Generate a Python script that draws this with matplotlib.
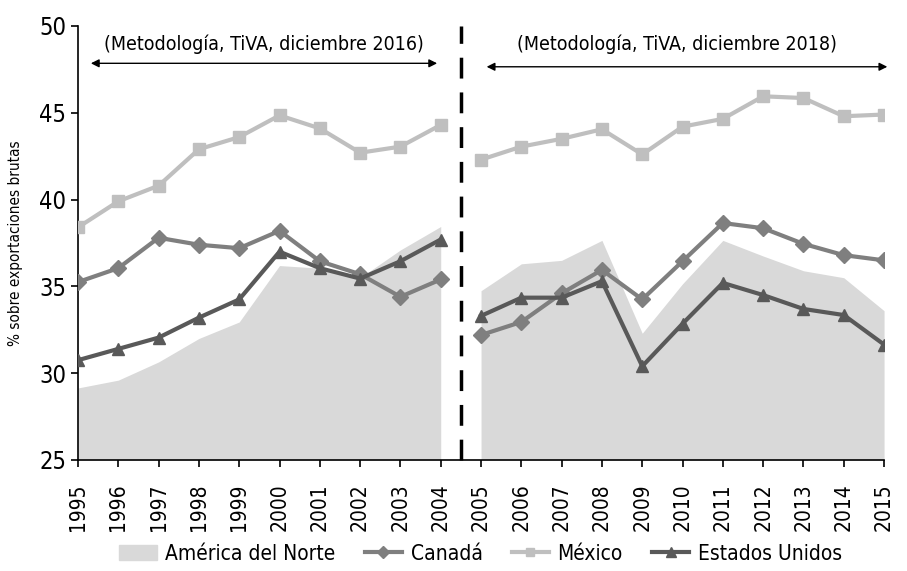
import matplotlib
matplotlib.use("Agg")
import matplotlib.pyplot as plt
import numpy as np

plt.rcParams['font.family'] = ['DejaVu Sans']
plt.rcParams['font.stretch'] = 'condensed'

years = list(range(1995, 2016))
america_norte = [29.15, 29.6, 30.65, 32.0, 32.95, 36.2, 36.05, 35.5, 37.1, 38.45,
                 34.75, 36.3, 36.5, 37.65, 32.3, 35.15, 37.65, 36.75, 35.9, 35.5, 33.6]
canada = [35.25, 36.05, 37.8, 37.4, 37.2, 38.2, 36.45, 35.7, 34.4, 35.4,
          32.2, 32.95, 34.6, 35.95, 34.25, 36.45, 38.65, 38.35, 37.45, 36.8, 36.5]
mexico = [38.4, 39.9, 40.8, 42.9, 43.6, 44.85, 44.1, 42.7, 43.05, 44.3,
          42.3, 43.05, 43.5, 44.05, 42.6, 44.2, 44.65, 45.95, 45.85, 44.8, 44.9]
estados_unidos = [30.75, 31.4, 32.05, 33.2, 34.25, 37.0, 36.05, 35.45, 36.45, 37.7,
                  33.3, 34.35, 34.35, 35.3, 30.4, 32.85, 35.2, 34.5, 33.7, 33.35, 31.65]

x = np.arange(len(years))
segs = [slice(0, 10), slice(10, 21)]

fig = plt.figure(figsize=(9.07, 5.71), dpi=100)
ax = fig.add_axes([0.086, 0.1944, 0.8887, 0.7601])

c_area = '#d9d9d9'
c_can = '#7f7f7f'
c_mex = '#bfbfbf'
c_eu = '#595959'

for s in segs:
    ax.fill_between(x[s], 25, np.array(america_norte)[s], color=c_area, lw=0, zorder=1)
    ax.plot(x[s], np.array(mexico)[s], color=c_mex, lw=3, marker='s', ms=9, zorder=3)
    ax.plot(x[s], np.array(canada)[s], color=c_can, lw=3, marker='D', ms=8, zorder=4)
    ax.plot(x[s], np.array(estados_unidos)[s], color=c_eu, lw=3, marker='^', ms=9, zorder=5)

# methodology break
ax.plot([9.5, 9.5], [25, 50], color='black', lw=2.5, dashes=(6, 4), zorder=6, clip_on=False)

ax.set_xlim(0, 20)
ax.set_ylim(25, 50)
ax.set_yticks([25, 30, 35, 40, 45, 50])
ax.set_xticks(x)
ax.set_xticklabels(years, rotation=90, fontsize=15)
ax.tick_params(axis='y', labelsize=17, length=5, width=1.2)
ax.tick_params(axis='x', length=5, width=1.2, pad=12)
for side in ['top', 'right']:
    ax.spines[side].set_visible(False)
ax.spines['left'].set_linewidth(1.2)
ax.spines['bottom'].set_linewidth(1.2)
ax.set_ylabel('% sobre exportaciones brutas', fontsize=11, labelpad=12)

ax.annotate('', xy=(0.25, 47.85), xytext=(8.98, 47.85),
            arrowprops=dict(arrowstyle='<|-|>', color='black', lw=1, mutation_scale=12),
            annotation_clip=False)
ax.text(4.6, 48.95, '(Metodología, TiVA, diciembre 2016)', ha='center', va='center', fontsize=14)
ax.annotate('', xy=(10.07, 47.65), xytext=(20.15, 47.65),
            arrowprops=dict(arrowstyle='<|-|>', color='black', lw=1, mutation_scale=12),
            annotation_clip=False)
ax.text(14.85, 48.95, '(Metodología, TiVA, diciembre 2018)', ha='center', va='center', fontsize=14)

handles = [
    plt.Rectangle((0, 0), 1, 1, color=c_area),
    plt.Line2D([], [], color=c_can, lw=3, marker='D', ms=6),
    plt.Line2D([], [], color=c_mex, lw=3, marker='s', ms=6),
    plt.Line2D([], [], color=c_eu, lw=3, marker='^', ms=7),
]
labels = ['América del Norte', 'Canadá', 'México', 'Estados Unidos']
fig.legend(handles, labels, loc='lower center', bbox_to_anchor=(0.53, -0.02), ncol=4,
           frameon=False, fontsize=15, handlelength=1.8, columnspacing=1.4, handletextpad=0.4)

fig.savefig('out.png', dpi=100)
